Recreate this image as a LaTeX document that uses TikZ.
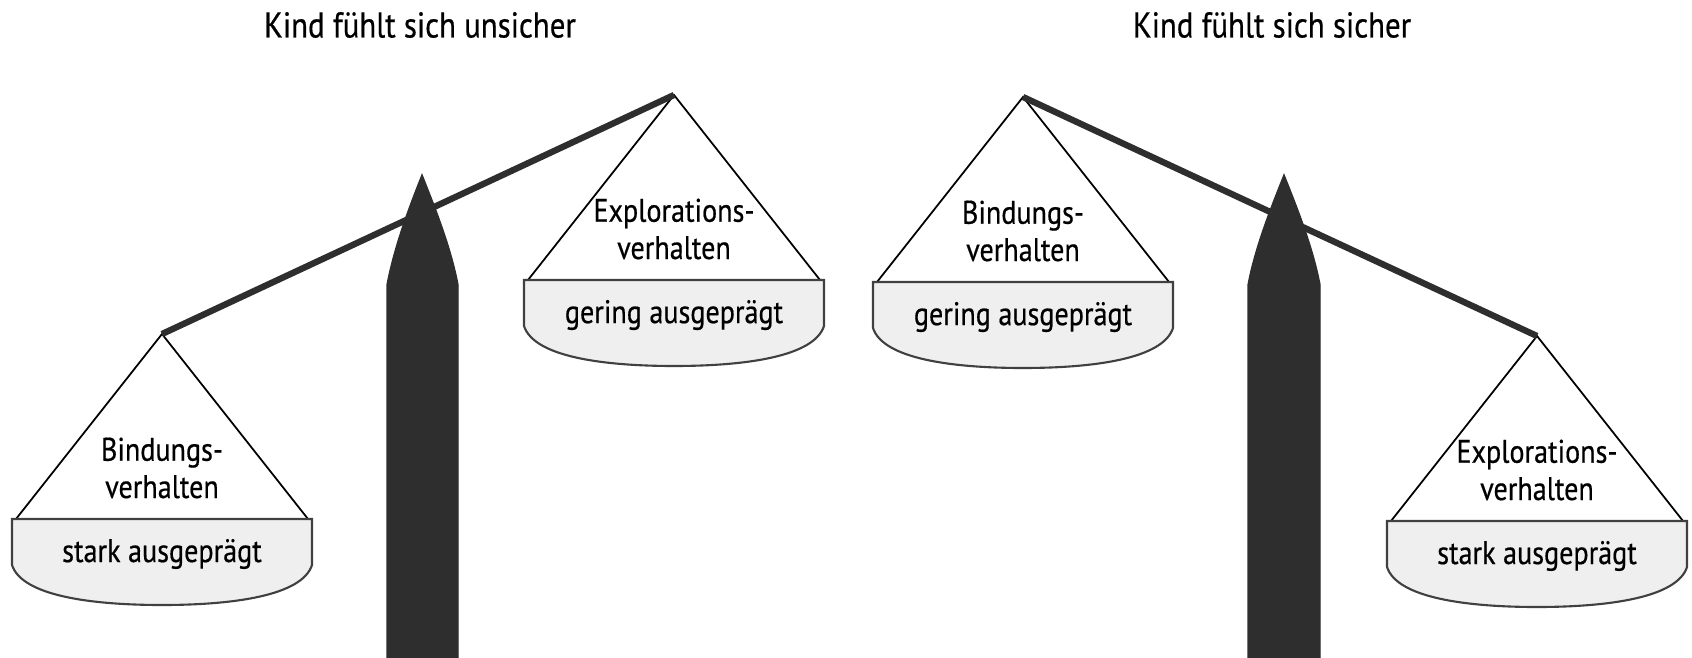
\documentclass[tikz,border=0pt]{standalone}
\usepackage{fontspec}
\setmainfont{PT Sans}[FakeStretch=0.86, FakeBold=0.5]
\usepackage{xcolor}
\usepackage{tikz}
\usetikzlibrary{positioning}
\definecolor{pillargray}{HTML}{2E2E2E}
\definecolor{pangray}{HTML}{EFEFEF}
\tikzset{
  beam/.style={draw=pillargray, line width=1.8pt},
  pillar/.style={fill=pillargray, draw=pillargray},
  string/.style={draw=black, line width=0.5pt},
  bowl/.style={draw=black!75, fill=pangray, line width=0.6pt},
  txt/.style={font=\fontsize{9.3}{10.6}\selectfont, align=center, inner sep=0pt},
  title/.style={font=\fontsize{10.2}{12}\selectfont, inner sep=0pt},
}

\begin{document}
\begin{tikzpicture}[x=0.01cm, y=-0.01cm]
            \useasboundingbox (0,0) rectangle (1692,658);
            % titles
            \node[title] (titleleft) at (420,25) {Kind fühlt sich unsicher};
            \node[title] (titleright) at (1272,25) {Kind fühlt sich sicher};
            % beam ends
            \coordinate (lbeamleft) at (162,334);
            \coordinate (lbeamright) at (674,95);
            \coordinate (rbeamleft) at (1023,97);
            \coordinate (rbeamright) at (1537,336);
            % pillars
            \fill[pillar] (422,175) .. controls (436,210) and (451,248) .. (458,285) -- (458,658)
                          -- (387,658) -- (387,285) .. controls (394,248) and (408,210) .. (422,175) -- cycle;
            \fill[pillar] (1284,175) .. controls (1298,210) and (1313,248) .. (1320,285) -- (1320,658)
                          -- (1248,658) -- (1248,285) .. controls (1255,248) and (1270,210) .. (1284,175) -- cycle;
            % left scale, left pan
            \begin{scope}[shift={(lbeamleft)}]
            \draw[string] (-146,185) -- (0,0) -- (146,185);
            \draw[bowl] (-150,185) -- (150,185) -- (150,231) .. controls (140,262) and (70,271) .. (0,271)
                        .. controls (-70,271) and (-140,262) .. (-150,231) -- cycle;
            \node[txt] (bindleft) at (0,134) {Bindungs-\\verhalten};
            \node[txt] (starkleft) at (0,220) {stark ausgeprägt};
            \end{scope}
            % left scale, right pan
            \begin{scope}[shift={(lbeamright)}]
            \draw[string] (-146,185) -- (0,0) -- (146,185);
            \draw[bowl] (-150,185) -- (150,185) -- (150,231) .. controls (140,262) and (70,271) .. (0,271)
                        .. controls (-70,271) and (-140,262) .. (-150,231) -- cycle;
            \node[txt] (explleft) at (0,134) {Explorations-\\verhalten};
            \node[txt] (geringleft) at (0,220) {gering ausgeprägt};
            \end{scope}
            % right scale, left pan
            \begin{scope}[shift={(rbeamleft)}]
            \draw[string] (-146,185) -- (0,0) -- (146,185);
            \draw[bowl] (-150,185) -- (150,185) -- (150,231) .. controls (140,262) and (70,271) .. (0,271)
                        .. controls (-70,271) and (-140,262) .. (-150,231) -- cycle;
            \node[txt] (bindright) at (0,134) {Bindungs-\\verhalten};
            \node[txt] (geringright) at (0,220) {gering ausgeprägt};
            \end{scope}
            % right scale, right pan
            \begin{scope}[shift={(rbeamright)}]
            \draw[string] (-146,185) -- (0,0) -- (146,185);
            \draw[bowl] (-150,185) -- (150,185) -- (150,231) .. controls (140,262) and (70,271) .. (0,271)
                        .. controls (-70,271) and (-140,262) .. (-150,231) -- cycle;
            \node[txt] (explright) at (0,134) {Explorations-\\verhalten};
            \node[txt] (starkright) at (0,220) {stark ausgeprägt};
            \end{scope}
            % beams
            \draw[beam] (lbeamleft) -- (lbeamright);
            \draw[beam] (rbeamleft) -- (rbeamright);
\end{tikzpicture}
\end{document}
